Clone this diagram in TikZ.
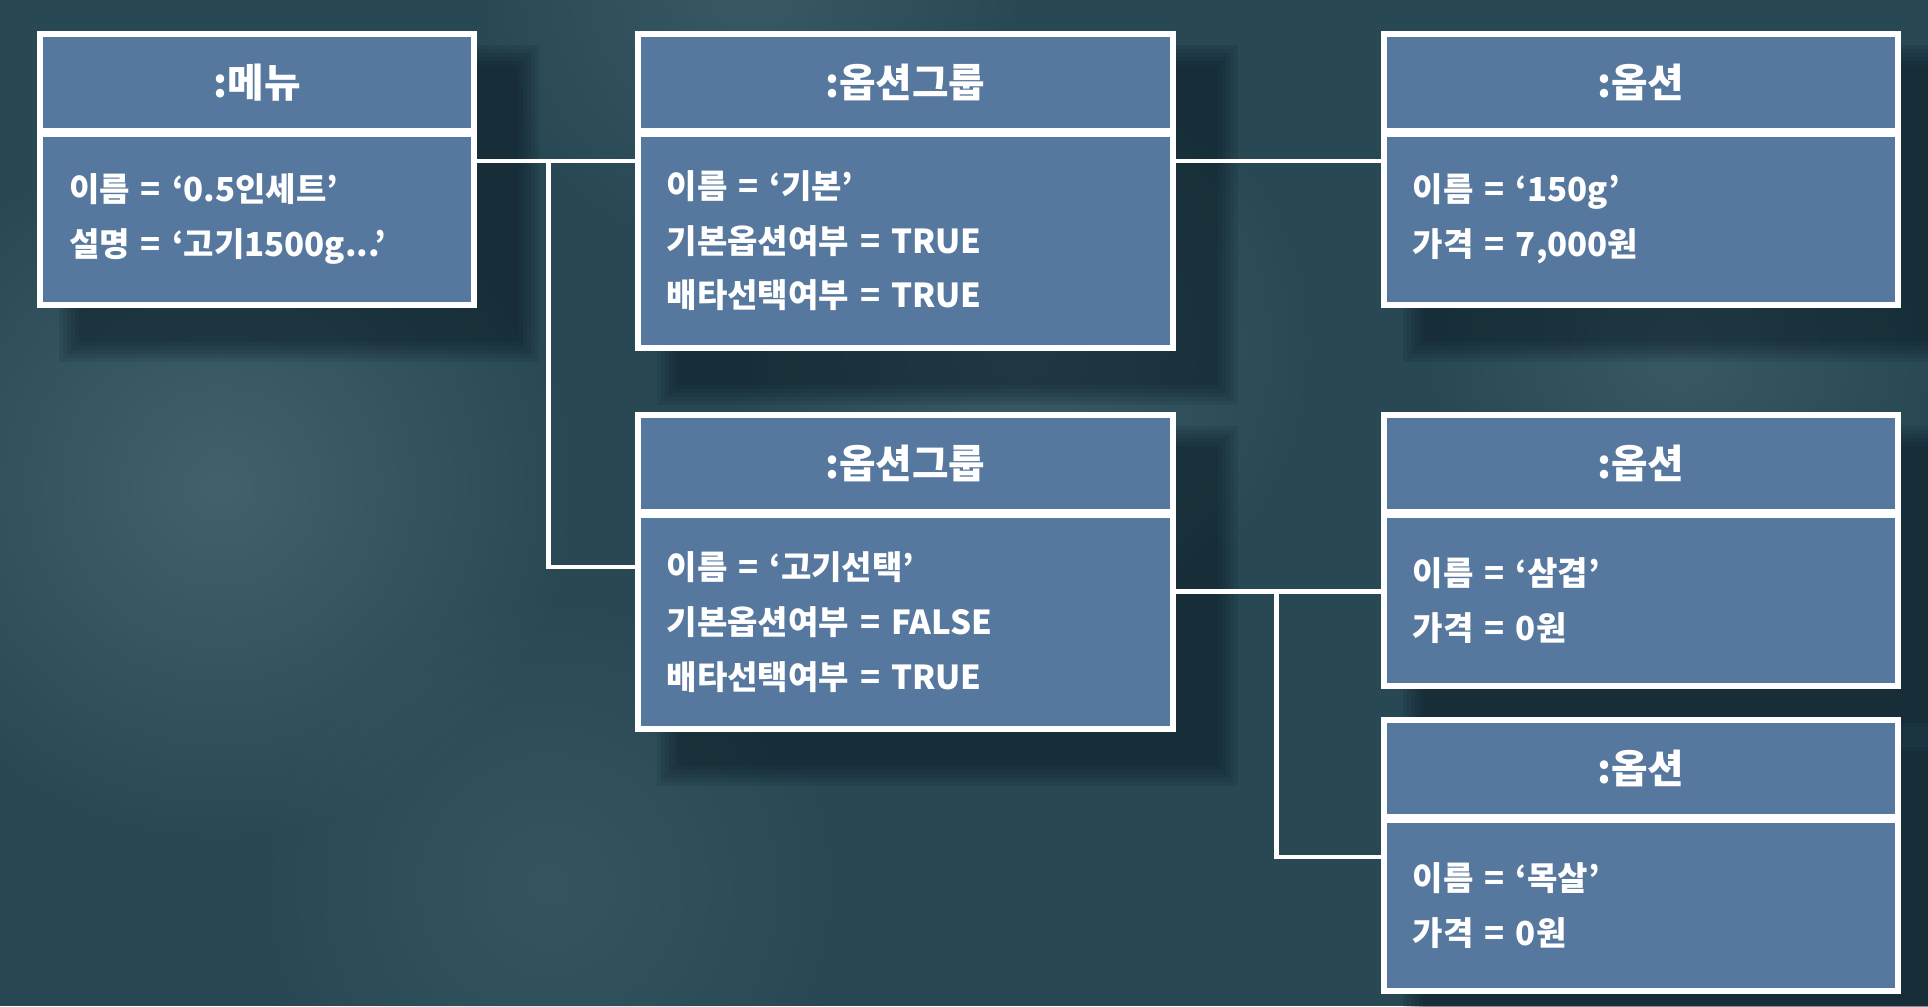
\documentclass[tikz,border=0pt]{standalone}
\usepackage{fontspec}
\newfontfamily\krfont{Noto Sans CJK KR}
\usetikzlibrary{positioning,backgrounds,fadings}

\definecolor{bgteal}{RGB}{40,72,84}
\definecolor{bglight}{RGB}{82,115,124}
\definecolor{boxblue}{RGB}{87,120,158}
\definecolor{shadowc}{RGB}{8,22,30}

\tikzfading[name=softblob, inner color=transparent!0, outer color=transparent!100]

\tikzset{
  objtitle/.style={draw=white, fill=boxblue, line width=1.8pt, text=white,
    font=\krfont\bfseries\fontsize{11.3}{13}\selectfont, minimum height=0.97cm, inner sep=0pt},
  objattr/.style={draw=white, fill=boxblue, line width=1.8pt, text=white,
    font=\krfont\bfseries\fontsize{9.4}{15.6}\selectfont, align=left, inner xsep=0.29cm, inner ysep=0pt},
  link/.style={draw=white, line width=1.3pt}
}

\begin{document}
\begin{tikzpicture}
\useasboundingbox (0,0) rectangle (19.28,10.06);

\coordinate (c0) at (0.37,9.753);
\coordinate (c1) at (6.345,9.753);
\coordinate (c2) at (6.345,5.941);
\coordinate (c3) at (13.808,9.753);
\coordinate (c4) at (13.808,5.941);
\coordinate (c5) at (13.808,2.892);

\node (menu) at (c0) [objtitle, anchor=north west, minimum width=4.34cm] {:메뉴};
\node (menu-attr) [objattr, below=-1pt of menu, text width=3.76cm, minimum height=1.71cm] {이름 = ‘0.5인세트’\\설명 = ‘고기1500g...’};

\node (grp1) at (c1) [objtitle, anchor=north west, minimum width=5.35cm] {:옵션그룹};
\node (grp1-attr) [objattr, below=-1pt of grp1, text width=4.77cm, minimum height=2.14cm] {이름 = ‘기본’\\기본옵션여부 = TRUE\\배타선택여부 = TRUE};

\node (grp2) at (c2) [objtitle, anchor=north west, minimum width=5.35cm] {:옵션그룹};
\node (grp2-attr) [objattr, below=-1pt of grp2, text width=4.77cm, minimum height=2.14cm] {이름 = ‘고기선택’\\기본옵션여부 = FALSE\\배타선택여부 = TRUE};

\node (opt1) at (c3) [objtitle, anchor=north west, minimum width=5.14cm] {:옵션};
\node (opt1-attr) [objattr, below=-1pt of opt1, text width=4.56cm, minimum height=1.71cm] {이름 = ‘150g’\\가격 = 7,000원};

\node (opt2) at (c4) [objtitle, anchor=north west, minimum width=5.14cm] {:옵션};
\node (opt2-attr) [objattr, below=-1pt of opt2, text width=4.56cm, minimum height=1.71cm] {이름 = ‘삼겹’\\가격 = 0원};

\node (opt3) at (c5) [objtitle, anchor=north west, minimum width=5.14cm] {:옵션};
\node (opt3-attr) [objattr, below=-1pt of opt3, text width=4.56cm, minimum height=1.71cm] {이름 = ‘목살’\\가격 = 0원};

% junctions of the links
\coordinate (j1) at (5.484,8.45);
\coordinate (j2) at (5.484,4.392);
\coordinate (j3) at (12.763,4.146);
\coordinate (j4) at (12.763,1.49);

\draw[link] (menu-attr.east |- j1) -- (grp1-attr.west |- j1);
\draw[link] (j1) |- (grp2-attr.west |- j2);
\draw[link] (grp1-attr.east |- j1) -- (opt1-attr.west |- j1);
\draw[link] (grp2-attr.east |- j3) -- (opt2-attr.west |- j3);
\draw[link] (j3) |- (opt3-attr.west |- j4);

\begin{pgfonlayer}{background}
\fill[bgteal] (0,0) rectangle (19.28,10.06);
\fill[bglight, opacity=0.6, path fading=softblob] (2.2,5.2) circle (3.6);
\fill[bglight, opacity=0.45, path fading=softblob] (10.2,6.6) circle (3);
\fill[bglight, opacity=0.4, path fading=softblob] (7.5,10.2) circle (2.8);
\fill[bglight, opacity=0.4, path fading=softblob] (16.8,6.6) circle (2.6);
\fill[bglight, opacity=0.3, path fading=softblob] (5.5,1.2) circle (3);
\foreach \obj in {menu,grp1,grp2,opt1,opt2,opt3} {
  \foreach \d in {0,0.04,...,0.2} {
    \fill[shadowc, opacity=0.1] ([shift={(0.42-\d,-0.34+\d)}]\obj.north west) rectangle ([shift={(0.42+\d,-0.34-\d)}]\obj-attr.south east);
  }
}
\end{pgfonlayer}
\end{tikzpicture}
\end{document}
